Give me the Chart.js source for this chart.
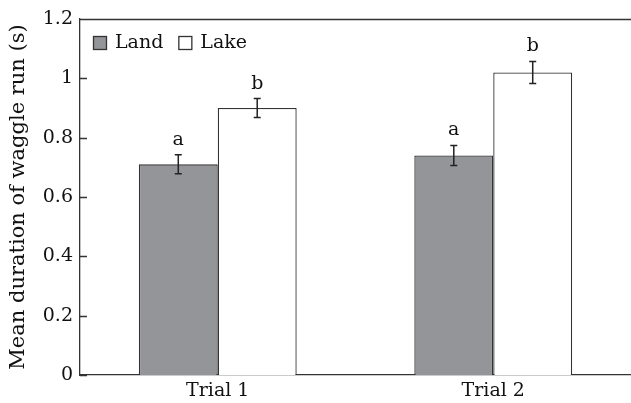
<!DOCTYPE html>
<html>
<head>
<meta charset="utf-8">
<script src="https://cdn.jsdelivr.net/npm/chart.js@4"></script>
<style>
  html, body { margin: 0; padding: 0; background: #fff; }
  #wrap { width: 631px; height: 403px; }
</style>
</head>
<body>
<div id="wrap"><canvas id="chart" width="631" height="403"></canvas></div>
<script>
const trials = ["Trial 1", "Trial 2"];
const landMeans = [0.71, 0.74];
const lakeMeans = [0.90, 1.02];
const landErr = [0.032, 0.034];
const lakeErr = [0.032, 0.037];
const landLetters = ["a", "a"];
const lakeLetters = ["b", "b"];
const yTicks = [0, 0.2, 0.4, 0.6, 0.8, 1, 1.2];

const FONT = "'DejaVu Serif', serif";
const INK = "#333";
const TXT = "#111";

// error bars, letters, inside ticks, top frame line, legend
const extras = {
  id: "extras",
  afterDatasetsDraw(chart) {
    const ctx = chart.ctx;
    const y = chart.scales.y;
    const area = chart.chartArea;
    const errs = [landErr, lakeErr];
    const letters = [landLetters, lakeLetters];

    ctx.save();
    ctx.strokeStyle = "#222";
    ctx.lineWidth = 1.5;

    chart.data.datasets.forEach((ds, di) => {
      chart.getDatasetMeta(di).data.forEach((bar, i) => {
        const v = ds.data[i], e = errs[di][i];
        const yt = y.getPixelForValue(v + e), yb = y.getPixelForValue(v - e);
        ctx.beginPath();
        ctx.moveTo(bar.x, yt); ctx.lineTo(bar.x, yb);
        ctx.moveTo(bar.x - 3.5, yt); ctx.lineTo(bar.x + 3.5, yt);
        ctx.moveTo(bar.x - 3.5, yb); ctx.lineTo(bar.x + 3.5, yb);
        ctx.stroke();

        ctx.fillStyle = TXT;
        ctx.font = "19px " + FONT;
        ctx.textAlign = "center";
        ctx.textBaseline = "alphabetic";
        ctx.fillText(letters[di][i], bar.x, yt - 10);
      });
    });

    ctx.strokeStyle = INK;
    ctx.lineWidth = 1.3;
    // ticks pointing into the plot
    ctx.beginPath();
    yTicks.forEach(t => {
      const py = Math.round(y.getPixelForValue(t)) + 0.5;
      ctx.moveTo(area.left, py); ctx.lineTo(area.left + 7, py);
    });
    // top frame line
    ctx.moveTo(area.left, area.top + 0.5); ctx.lineTo(area.right, area.top + 0.5);
    ctx.stroke();

    // legend inside plot
    let lx = area.left + 13;
    const ly = area.top + 24;
    ctx.font = "19px " + FONT;
    ctx.textAlign = "left";
    ctx.textBaseline = "middle";
    chart.data.datasets.forEach(ds => {
      ctx.fillStyle = ds.backgroundColor;
      ctx.fillRect(lx, ly - 7, 14, 14);
      ctx.strokeRect(lx + 0.5, ly - 6.5, 13, 13);
      ctx.fillStyle = TXT;
      ctx.fillText(ds.label, lx + 22, ly);
      lx += 22 + ctx.measureText(ds.label).width + 15;
    });
    ctx.restore();
  }
};

new Chart(document.getElementById("chart"), {
  type: "bar",
  data: {
    labels: trials,
    datasets: [
      { label: "Land", data: landMeans, backgroundColor: "#939598", borderColor: INK, borderWidth: 1.3 },
      { label: "Lake", data: lakeMeans, backgroundColor: "#ffffff", borderColor: INK, borderWidth: 1.3 }
    ]
  },
  options: {
    responsive: false,
    animation: false,
    layout: { padding: { top: 19, right: 0, bottom: 0, left: 0 } },
    datasets: { bar: { barPercentage: 1, categoryPercentage: 0.573 } },
    plugins: { legend: { display: false }, tooltip: { enabled: false } },
    scales: {
      x: {
        grid: { display: false, drawTicks: false },
        border: { display: true, color: INK, width: 1.3 },
        ticks: { color: TXT, font: { family: FONT, size: 19 }, padding: 5 },
        afterFit: s => { s.height = 28; }
      },
      y: {
        min: 0, max: 1.2,
        afterBuildTicks: s => { s.ticks = yTicks.map(v => ({ value: v })); },
        grid: { display: false, drawTicks: false },
        border: { display: true, color: INK, width: 1.3 },
        ticks: { color: TXT, font: { family: FONT, size: 19 }, padding: 7,
                 callback: v => String(+v.toFixed(1)) },
        title: { display: true, text: "Mean duration of waggle run (s)", color: TXT,
                 font: { family: FONT, size: 21 }, padding: { top: 6, bottom: 0 } },
        afterFit: s => { s.width = 80; }
      }
    }
  },
  plugins: [extras]
});
</script>
</body>
</html>
